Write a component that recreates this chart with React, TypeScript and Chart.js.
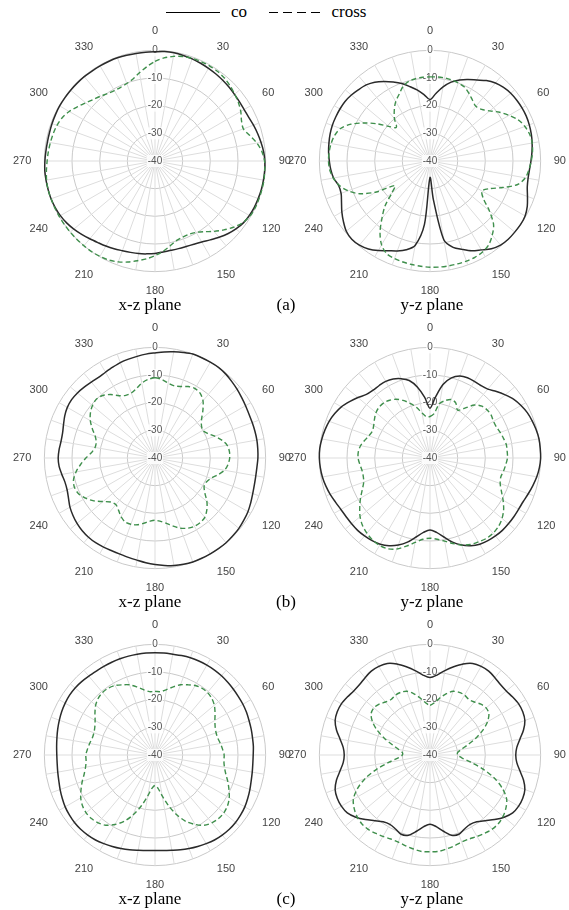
import React, { useEffect, useRef } from 'react';
import { Chart, registerables } from 'chart.js';

Chart.register(...registerables);

// angle categories (degrees, clockwise from top), 5 degree steps
const ANGLES = [
  0, 5, 10, 15, 20, 25, 30, 35, 40, 45, 50, 55, 60, 65, 70, 75, 80, 85,
  90, 95, 100, 105, 110, 115, 120, 125, 130, 135, 140, 145, 150, 155, 160, 165, 170, 175,
  180, 185, 190, 195, 200, 205, 210, 215, 220, 225, 230, 235, 240, 245, 250, 255, 260, 265,
  270, 275, 280, 285, 290, 295, 300, 305, 310, 315, 320, 325, 330, 335, 340, 345, 350, 355,
];

// radial tick values (dB)
const R_MIN = -40;
const R_MAX = 0;
const R_STEP = 10;

// (a) x-z plane
const XZ_A_CO = [
  -0.5, -0.3, -0.3, -0.5, -0.7, -1, -1.3, -1.6, -1.9, -2.2, -2.5, -2.7, -2.8, -2.6, -2.1, -1.6, -1.1, -0.6,
  -0.3, -0.2, -0.2, -0.2, -0.3, -0.4, -0.6, -1, -1.8, -2.8, -4, -5.2, -6.2, -6.8, -7.1, -7.2, -7.2, -7,
  -6.6, -6.3, -6, -5.8, -5.5, -5, -4.5, -4, -3.3, -2.5, -1.7, -1, -0.5, -0.2, 0, 0, 0, 0,
  -0.2, -0.4, -0.5, -0.5, -0.4, -0.3, -0.2, -0.2, -0.2, -0.2, -0.2, -0.3, -0.3, -0.3, -0.3, -0.4, -0.5, -0.5,
];
const XZ_A_CROSS = [
  -4, -2.6, -1.6, -0.9, -0.5, -0.4, -0.4, -0.5, -0.9, -1.6, -2.4, -3.2, -4.2, -5.5, -6, -4.5, -2.6, -1.2,
  -0.4, -0.2, 0, 0, 0, 0, -0.3, -1.2, -2.8, -4.8, -6.8, -8.8, -10.2, -10.8, -10.7, -10.2, -8.8, -7.2,
  -5.8, -4.5, -3.4, -2.2, -1.2, -0.5, -0.2, 0, 0, 0, 0, 0, 0, 0, 0, 0, -0.2, -0.6,
  -1, -1.3, -1.6, -1.9, -2.3, -3, -4.2, -5.8, -7.3, -8.5, -9.4, -10.2, -10.6, -10.6, -10.2, -9.3, -7.6, -5.8,
];
// (a) y-z plane
const YZ_A_CO = [
  -17.8, -15.5, -12.8, -10.5, -8.8, -7.5, -6.2, -4.5, -3.2, -2.4, -1.9, -1.7, -1.6, -1.6, -1.8, -2.1, -2.5, -3,
  -3.5, -3.9, -4, -3.6, -2.5, -1.2, -0.3, 0, 0, 0, -0.3, -1.3, -2.9, -4.2, -6, -7.7, -11, -26,
  -34, -17, -9, -6.8, -5.4, -4.2, -2.6, -1.2, -0.3, 0, -0.5, -1.8, -3.2, -4.7, -5.8, -5.8, -4.6, -4,
  -3.6, -3.2, -2.9, -2.6, -2.4, -2.4, -2.4, -2.5, -2.9, -3.5, -4.1, -5.2, -6.8, -8.5, -10.2, -12.2, -14, -16,
];
const YZ_A_CROSS = [
  -9.6, -9.5, -9.5, -9.7, -10, -10.5, -11.8, -13.2, -14.2, -13.6, -11.8, -9.3, -7, -4.8, -3.5, -2.7, -2.5, -2.8,
  -3.4, -4.1, -5, -7.2, -12, -16.3, -18.3, -16.5, -12, -7.5, -5, -3, -2, -1.6, -1.5, -1.5, -1.5, -1.5,
  -1.6, -1.8, -2, -2.2, -2.5, -3, -5, -8.5, -13, -17, -22, -24.5, -17.6, -12, -8.5, -6, -4.5, -3.6,
  -3.3, -3.4, -3.7, -4.3, -5.6, -8.5, -12.5, -16.5, -20.5, -22.8, -20, -17.5, -15.2, -13.5, -11.4, -10.2, -9.8, -9.6,
];
// (b) x-z plane
const XZ_B_CO = [
  -2, -1.5, -1, -0.5, 0, 0, 0, 0, -0.3, -0.8, -1.3, -1.8, -2.2, -2.5, -2.6, -2.6, -2.6, -2.7,
  -2.8, -3, -3, -2.8, -2.4, -1.8, -1.2, -0.8, -0.4, -0.2, 0, 0, 0, 0, 0, -0.2, -0.5, -1,
  -1.5, -2, -2.5, -2.8, -3, -3, -2.8, -2.6, -2.6, -2.8, -3.2, -3.8, -4.5, -5.5, -6.2, -6.3, -5.8, -5.2,
  -5, -5.2, -5.5, -5.4, -4.8, -4, -3.4, -3.2, -3.4, -3.8, -4.2, -4.4, -4.2, -3.8, -3.3, -3, -2.7, -2.3,
];
const XZ_B_CROSS = [
  -11, -11.5, -12.5, -13, -12.5, -11.5, -11, -11.5, -13, -15.5, -18, -19.5, -20, -19, -17, -15, -13.5, -13,
  -13, -13.5, -14.5, -16.5, -18.5, -19.5, -19.5, -18, -15.5, -13.5, -12, -11.5, -11.5, -12, -13, -14.5, -16, -17,
  -17.5, -17, -16, -15, -14.5, -14.5, -15.5, -17, -18, -17.5, -15.5, -13, -11, -9.5, -9, -9.5, -11, -13,
  -15, -17, -18, -18, -17, -15, -13, -11.5, -10.5, -10, -10.5, -12, -14, -15, -15, -14, -12.5, -11.5,
];
// (b) y-z plane
const YZ_B_CO = [
  -22, -18, -13, -10, -8.5, -8, -8, -8, -7.5, -6, -4.5, -3, -2, -1.2, -0.7, -0.3, 0, 0,
  0, -0.3, -0.8, -1.5, -2.2, -2.8, -3, -3, -3, -3, -3.2, -3.5, -4, -5, -6.5, -8.5, -11, -13,
  -14, -13, -11, -8.5, -6.5, -5, -4, -3.5, -3.2, -3, -3, -3, -2.8, -2.3, -1.6, -1, -0.5, -0.2,
  0, 0, -0.3, -0.7, -1.2, -2, -3, -4.5, -6, -7.5, -8, -8, -8, -8.5, -9.5, -11, -14, -18,
];
const YZ_B_CROSS = [
  -25, -24, -20, -18.5, -17.5, -18, -20, -18, -15, -13.5, -13, -13, -13.5, -13.5, -13, -12.5, -12, -12,
  -12, -12.5, -13, -13.5, -13, -11.5, -9.5, -7.5, -6, -5, -4.5, -4.5, -5, -5.5, -6.5, -8, -9.5, -10.5,
  -11, -10.5, -9, -7, -5, -3.8, -3.5, -3.8, -4.5, -5.5, -7, -9, -11, -13, -14.5, -15, -15, -14.5,
  -14, -14, -14.5, -15.5, -16.5, -17, -16.5, -15.5, -14.5, -14, -14, -14.5, -15.5, -17, -19, -21, -23.5, -25,
];
// (c) x-z plane
const XZ_C_CO = [
  -3, -3, -3, -2.8, -2.6, -2.5, -2.5, -2.5, -2.6, -2.8, -3, -3.2, -3.3, -3.5, -3.8, -4, -4.2, -4.3,
  -4.5, -4.5, -4.3, -4, -3.5, -3, -2.5, -2.2, -2, -2, -2.2, -2.5, -3, -3.5, -4, -4.5, -5, -5.3,
  -5.5, -5.3, -5, -4.5, -4, -3.5, -3, -2.5, -2.2, -2, -2, -2.2, -2.5, -3, -3.5, -4, -4.3, -4.5,
  -4.5, -4.3, -4, -3.6, -3.2, -2.8, -2.5, -2.3, -2.3, -2.5, -2.8, -3, -3, -3, -3, -3, -3, -3,
];
const XZ_C_CROSS = [
  -17, -17, -16, -14.5, -13, -12, -11, -10.5, -10.5, -11, -12, -13.5, -15, -16, -16.5, -16.5, -16, -15.5,
  -15, -15, -14.5, -13.5, -12, -10.5, -9, -8, -7.5, -7.5, -8, -9, -11, -13.5, -17, -21, -25, -28,
  -29, -28, -25, -21, -17, -13.5, -11, -9, -8, -7.5, -7.5, -8, -9, -10.5, -12, -13.5, -14.5, -15,
  -15, -15.5, -16, -16.5, -16.5, -16, -15, -13.5, -12, -11, -10.5, -10.5, -11, -12, -13, -14.5, -16, -17,
];
// (c) y-z plane
const YZ_C_CO = [
  -12, -11, -9, -7, -5, -3.5, -3, -3, -3.5, -4, -4, -3.5, -3, -3, -3.5, -5, -7, -8.5,
  -9, -8.5, -7, -5, -3.5, -3, -3, -3.5, -5, -7, -9, -10.5, -11, -10.5, -9.5, -10, -12, -14,
  -15, -14, -12, -10, -9.5, -10.5, -11, -10.5, -9, -7, -5, -3.5, -3, -3, -3.5, -5, -7, -8.5,
  -9, -8.5, -7, -5, -3.5, -3, -3, -3.5, -4, -4, -3.5, -3, -3, -3.5, -5, -7, -9, -11,
];
const YZ_C_CROSS = [
  -22, -21, -19, -17, -15.5, -15, -15, -15.5, -15, -14, -13.5, -14, -16, -19, -22.5, -26, -28.5, -30,
  -30, -28.5, -25, -20, -15, -11, -8, -6.5, -5.5, -5, -5, -5.5, -6, -6.5, -6.5, -6, -5.5, -5,
  -5, -5, -5.5, -6, -6.5, -6.5, -6, -5.5, -5, -5, -5.5, -6.5, -8, -11, -15, -20, -25, -28.5,
  -30, -30, -28.5, -26, -22.5, -19, -16, -14, -13.5, -14, -15, -15.5, -15, -15, -15.5, -17, -19, -21,
];

const CAPTIONS_LEFT = 'x-z plane';
const CAPTIONS_RIGHT = 'y-z plane';
const ROW_TAGS = ['(a)', '(b)', '(c)'];
const LEGEND_CO = 'co';
const LEGEND_CROSS = 'cross';

const SANS = '"Liberation Sans", Arial, Helvetica, sans-serif';
const SERIF = '"Liberation Serif", "Times New Roman", Times, serif';
const CO_COLOR = '#2a2a2a';
const CROSS_COLOR = '#3f8f4c';

const CANVAS = 284;
const OFF_X = 145;
const OFF_Y = 142;

type PlotProps = { co: number[]; cross: number[]; cx: number; cy: number };

function PolarPlot({ co, cross, cx, cy }: PlotProps) {
  const ref = useRef<HTMLCanvasElement>(null);
  useEffect(() => {
    const chart = new Chart(ref.current as HTMLCanvasElement, {
      type: 'radar',
      data: {
        labels: ANGLES,
        datasets: [
          {
            label: LEGEND_CROSS,
            data: cross,
            borderColor: CROSS_COLOR,
            borderWidth: 1.4,
            borderDash: [5, 3],
            pointRadius: 0,
            fill: false,
            tension: 0.3,
          },
          {
            label: LEGEND_CO,
            data: co,
            borderColor: CO_COLOR,
            borderWidth: 1.5,
            pointRadius: 0,
            fill: false,
            tension: 0.3,
          },
        ],
      },
      options: {
        responsive: false,
        maintainAspectRatio: false,
        animation: false,
        events: [],
        layout: { padding: 0 },
        plugins: { legend: { display: false }, tooltip: { enabled: false } },
        scales: {
          r: {
            min: R_MIN,
            max: R_MAX,
            startAngle: 0,
            ticks: {
              stepSize: R_STEP,
              font: { size: 10, family: SANS },
              color: '#555',
              showLabelBackdrop: true,
              backdropColor: 'rgba(255,255,255,0.85)',
              backdropPadding: 1,
            },
            grid: { circular: true, color: '#c9c9c9', lineWidth: 1 },
            angleLines: {
              color: (ctx: any) => (ctx.index % 2 === 0 ? '#dddddd' : 'rgba(0,0,0,0)'),
              lineWidth: (ctx: any) => (ctx.index % 2 === 0 ? 1 : 0),
            },
            pointLabels: {
              callback: (label: any, index: number) => (index % 6 === 0 ? String(label) : ''),
              font: { size: 11, family: SANS },
              color: '#444',
              padding: 7,
            },
          },
        },
      } as any,
    });
    return () => chart.destroy();
  }, [co, cross]);
  return (
    <canvas
      ref={ref}
      width={CANVAS}
      height={CANVAS}
      style={{ position: 'absolute', left: cx - OFF_X, top: cy - OFF_Y, width: CANVAS, height: CANVAS }}
    />
  );
}

const ROWS = [
  { cy: 161, xz: [XZ_A_CO, XZ_A_CROSS], yz: [YZ_A_CO, YZ_A_CROSS] },
  { cy: 458, xz: [XZ_B_CO, XZ_B_CROSS], yz: [YZ_B_CO, YZ_B_CROSS] },
  { cy: 755, xz: [XZ_C_CO, XZ_C_CROSS], yz: [YZ_C_CO, YZ_C_CROSS] },
];

const LEFT_CX = 155;
const RIGHT_CX = 430;

export default function App() {
  const captionStyle: React.CSSProperties = {
    position: 'absolute',
    fontFamily: SERIF,
    fontSize: 17,
    color: '#000',
    whiteSpace: 'nowrap',
    transform: 'translate(-50%, -50%)',
    lineHeight: '20px',
  };
  return (
    <div style={{ position: 'absolute', left: 0, top: 0, width: 569, height: 910, background: '#fff', overflow: 'hidden' }}>
      {/* legend */}
      <div style={{ position: 'absolute', left: 166, top: 12, width: 54, borderTop: '1px solid #000' }} />
      <div style={{ ...captionStyle, left: 239, top: 12 }}>{LEGEND_CO}</div>
      <div style={{ position: 'absolute', left: 269, top: 12, width: 52, height: 1, backgroundImage: 'linear-gradient(to right, #000 0 9px, transparent 9px 14px)', backgroundSize: '14px 1px' }} />
      <div style={{ ...captionStyle, left: 349, top: 12 }}>{LEGEND_CROSS}</div>
      {ROWS.map((row, i) => (
        <React.Fragment key={i}>
          <PolarPlot co={row.xz[0]} cross={row.xz[1]} cx={LEFT_CX} cy={row.cy} />
          <PolarPlot co={row.yz[0]} cross={row.yz[1]} cx={RIGHT_CX} cy={row.cy} />
          <div style={{ ...captionStyle, left: 150, top: row.cy + 144 }}>{CAPTIONS_LEFT}</div>
          <div style={{ ...captionStyle, left: 286, top: row.cy + 144 }}>{ROW_TAGS[i]}</div>
          <div style={{ ...captionStyle, left: 432, top: row.cy + 144 }}>{CAPTIONS_RIGHT}</div>
        </React.Fragment>
      ))}
    </div>
  );
}
